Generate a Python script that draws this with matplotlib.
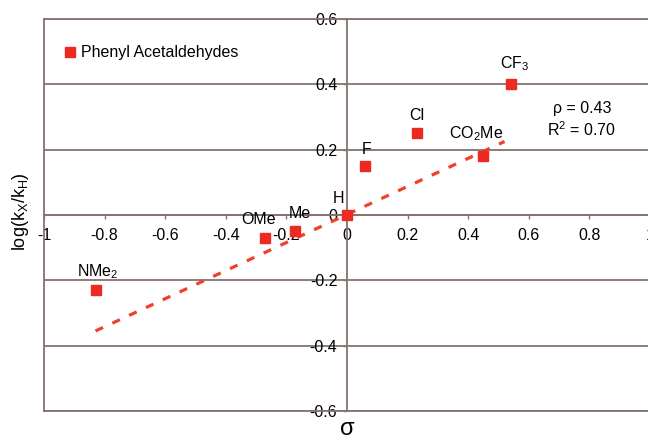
import numpy as np
import matplotlib
matplotlib.use('Agg')
import matplotlib.pyplot as plt

plt.rcParams['font.family'] = ['Liberation Sans', 'DejaVu Sans']
plt.rcParams['mathtext.fontset'] = 'custom'
plt.rcParams['mathtext.rm'] = 'Liberation Sans'
plt.rcParams['mathtext.it'] = 'Liberation Sans:italic'

# substituents, sigma values and log(kX/kH)
names = ['NMe$_\\mathregular{2}$', 'OMe', 'Me', 'H', 'F', 'Cl', 'CO$_\\mathregular{2}$Me', 'CF$_\\mathregular{3}$']
sigma = [-0.83, -0.27, -0.17, 0.0, 0.06, 0.23, 0.45, 0.54]
logk = [-0.23, -0.07, -0.05, 0.0, 0.15, 0.25, 0.18, 0.40]
# label offsets (points) from each marker
label_dx = [2, -5, 3, -6, 1, 0, -5, 3]
label_dy = [13, 13, 13, 12, 12, 13, 16, 15]

# trend line ends as drawn
fit_x = [-0.83, 0.52]
fit_y = [-0.355, 0.225]

xticks = [-1, -0.8, -0.6, -0.4, -0.2, 0, 0.2, 0.4, 0.6, 0.8, 1]
xticklabels = ['-1', '-0.8', '-0.6', '-0.4', '-0.2', '0', '0.2', '0.4', '0.6', '0.8', '1']
yticks = [-0.6, -0.4, -0.2, 0, 0.2, 0.4, 0.6]
yticklabels = ['-0.6', '-0.4', '-0.2', '0', '0.2', '0.4', '0.6']

red = '#ec2a22'
linecol = '#857370'
fs = 11.5

fig = plt.figure(figsize=(6.48, 4.37), dpi=100)
ax = fig.add_axes([44/648, 26/437, 606/648, 392/437])
ax.set_xlim(-1, 1)
ax.set_ylim(-0.6, 0.6)

ax.spines['left'].set_position(('data', 0))
ax.spines['bottom'].set_position(('data', 0))
for s in ax.spines.values():
    s.set_color(linecol)
    s.set_linewidth(1.3)
ax.axvline(-1, color=linecol, lw=1.3, clip_on=False)
ax.axhline(-0.6, color=linecol, lw=1.3, clip_on=False)
ax.yaxis.grid(True, color=linecol, lw=1.3)
ax.set_axisbelow(True)

ax.set_xticks(xticks)
ax.set_xticklabels(xticklabels)
ax.set_yticks(yticks)
ax.set_yticklabels(yticklabels)
ax.tick_params(axis='both', labelsize=fs, colors='black', length=3, width=1.0)
ax.tick_params(axis='x', pad=6, color=linecol)
ax.tick_params(axis='y', pad=4, color=linecol)

ax.plot(fit_x, fit_y, color='#f0402a', lw=2.3, dashes=(2.6, 3.2), zorder=3)
ax.plot(sigma, logk, 's', color=red, ms=7, zorder=4, label='Phenyl Acetaldehydes')

for n, x, y, dx, dy in zip(names, sigma, logk, label_dx, label_dy):
    ax.annotate(n, (x, y), xytext=(dx, dy), textcoords='offset points',
                ha='center', va='center', fontsize=fs)

ax.text(0.775, 0.327, '\u03c1 = 0.43', ha='center', va='center', fontsize=fs)
ax.text(0.775, 0.262, 'R$^\\mathregular{2}$ = 0.70', ha='center', va='center', fontsize=fs)

ax.legend(loc='center left', bbox_to_anchor=(-0.934, 0.496), bbox_transform=ax.transData,
          frameon=False, fontsize=fs, handlelength=0.8, handletextpad=0.25,
          borderpad=0, borderaxespad=0, numpoints=1)

fig.text(347/648, 2/437, '\u03c3', ha='center', va='baseline', fontsize=17)
ax.set_ylabel('log(k$_\\mathregular{X}$/k$_\\mathregular{H}$)', fontsize=13)
ax.yaxis.set_label_coords(-0.021, 0.508)

fig.savefig('out.png', dpi=100)
